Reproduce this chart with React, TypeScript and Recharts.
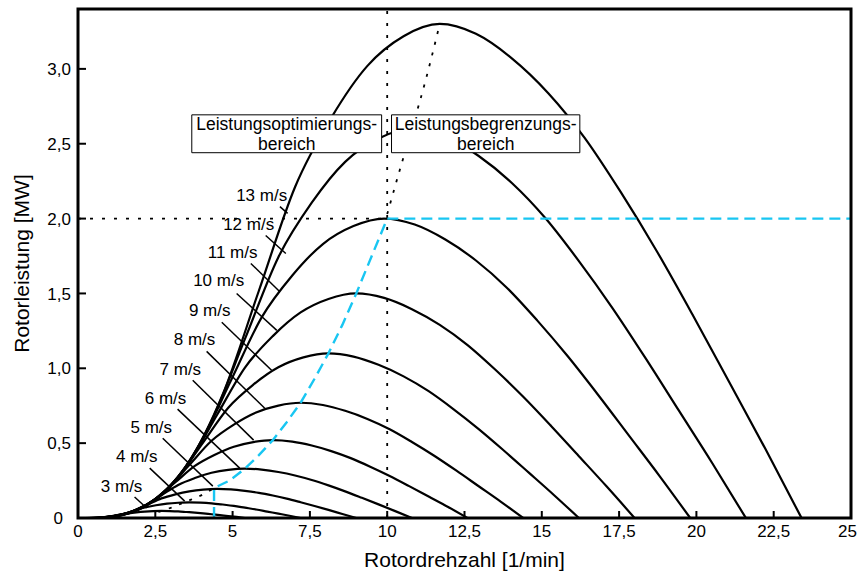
import React from 'react';
import {
  LineChart,
  Line,
  XAxis,
  YAxis,
  ReferenceLine,
  ReferenceArea,
  ReferenceDot,
  Label,
} from 'recharts';

const FONT = '"Liberation Sans", Arial, Helvetica, sans-serif';

// ---- axis ticks ----
const xTicks = [0, 2.5, 5, 7.5, 10, 12.5, 15, 17.5, 20, 22.5, 25];
const xTickLabels = ['0', '2,5', '5', '7,5', '10', '12,5', '15', '17,5', '20', '22,5', '25'];
const yTicks = [0, 0.5, 1, 1.5, 2, 2.5, 3];
const yTickLabels = ['0', '0,5', '1,0', '1,5', '2,0', '2,5', '3,0'];

// ---- power curves (rotor speed [1/min], rotor power [MW]) ----
const rpm13 = [0.94, 2.34, 3.51, 4.68, 5.85, 7.02, 8.19, 9.36, 10.53, 11.7, 12.87, 14.04, 15.21, 16.38, 17.55, 18.72, 19.89, 21.06, 22.23, 23.4];
const pow13 = [0, 0.099, 0.347, 0.825, 1.518, 2.211, 2.673, 3.02, 3.218, 3.3, 3.234, 3.069, 2.838, 2.541, 2.178, 1.782, 1.353, 0.908, 0.462, 0];
const rpm12 = [0.86, 2.16, 3.24, 4.32, 5.4, 6.48, 7.56, 8.64, 9.72, 10.8, 11.88, 12.96, 14.04, 15.12, 16.2, 17.28, 18.36, 19.44, 20.52, 21.6];
const pow12 = [0, 0.078, 0.273, 0.65, 1.196, 1.742, 2.106, 2.379, 2.535, 2.6, 2.548, 2.418, 2.236, 2.002, 1.716, 1.404, 1.066, 0.715, 0.364, 0];
const rpm11 = [0.79, 1.98, 2.97, 3.96, 4.95, 5.94, 6.93, 7.92, 8.91, 9.9, 10.89, 11.88, 12.87, 13.86, 14.85, 15.84, 16.83, 17.82, 18.81, 19.8];
const pow11 = [0, 0.06, 0.21, 0.5, 0.92, 1.34, 1.62, 1.83, 1.95, 2.0, 1.96, 1.86, 1.72, 1.54, 1.32, 1.08, 0.82, 0.55, 0.28, 0];
const rpm10 = [0.72, 1.8, 2.7, 3.6, 4.5, 5.4, 6.3, 7.2, 8.1, 9.0, 9.9, 10.8, 11.7, 12.6, 13.5, 14.4, 15.3, 16.2, 17.1, 18.0];
const pow10 = [0, 0.045, 0.158, 0.375, 0.69, 1.005, 1.215, 1.373, 1.463, 1.5, 1.47, 1.395, 1.29, 1.155, 0.99, 0.81, 0.615, 0.413, 0.21, 0];
const rpm9 = [0.65, 1.62, 2.43, 3.24, 4.05, 4.86, 5.67, 6.48, 7.29, 8.1, 8.91, 9.72, 10.53, 11.34, 12.15, 12.96, 13.77, 14.58, 15.39, 16.2];
const pow9 = [0, 0.033, 0.116, 0.275, 0.506, 0.737, 0.891, 1.007, 1.073, 1.1, 1.078, 1.023, 0.946, 0.847, 0.726, 0.594, 0.451, 0.303, 0.154, 0];
const rpm8 = [0.58, 1.44, 2.16, 2.88, 3.6, 4.32, 5.04, 5.76, 6.48, 7.2, 7.92, 8.64, 9.36, 10.08, 10.8, 11.52, 12.24, 12.96, 13.68, 14.4];
const pow8 = [0, 0.023, 0.081, 0.193, 0.354, 0.516, 0.624, 0.705, 0.751, 0.77, 0.755, 0.716, 0.662, 0.593, 0.508, 0.416, 0.316, 0.212, 0.108, 0];
const rpm7 = [0.5, 1.26, 1.89, 2.52, 3.15, 3.78, 4.41, 5.04, 5.67, 6.3, 6.93, 7.56, 8.19, 8.82, 9.45, 10.08, 10.71, 11.34, 11.97, 12.6];
const pow7 = [0, 0.016, 0.055, 0.13, 0.239, 0.348, 0.421, 0.476, 0.507, 0.52, 0.51, 0.484, 0.447, 0.4, 0.343, 0.281, 0.213, 0.143, 0.073, 0];
const rpm6 = [0.43, 1.08, 1.62, 2.16, 2.7, 3.24, 3.78, 4.32, 4.86, 5.4, 5.94, 6.48, 7.02, 7.56, 8.1, 8.64, 9.18, 9.72, 10.26, 10.8];
const pow6 = [0, 0.01, 0.035, 0.083, 0.152, 0.221, 0.267, 0.302, 0.322, 0.33, 0.323, 0.307, 0.284, 0.254, 0.218, 0.178, 0.135, 0.091, 0.046, 0];
const rpm5 = [0.36, 0.9, 1.35, 1.8, 2.25, 2.7, 3.15, 3.6, 4.05, 4.5, 4.95, 5.4, 5.85, 6.3, 6.75, 7.2, 7.65, 8.1, 8.55, 9.0];
const pow5 = [0, 0.006, 0.02, 0.049, 0.09, 0.131, 0.158, 0.178, 0.19, 0.195, 0.191, 0.181, 0.168, 0.15, 0.129, 0.105, 0.08, 0.054, 0.027, 0];
const rpm4 = [0.29, 0.72, 1.08, 1.44, 1.8, 2.16, 2.52, 2.88, 3.24, 3.6, 3.96, 4.32, 4.68, 5.04, 5.4, 5.76, 6.12, 6.48, 6.84, 7.2];
const pow4 = [0, 0.003, 0.011, 0.026, 0.048, 0.07, 0.085, 0.096, 0.102, 0.105, 0.103, 0.098, 0.09, 0.081, 0.069, 0.057, 0.043, 0.029, 0.015, 0];
const rpm3 = [0.22, 0.54, 0.81, 1.08, 1.35, 1.62, 1.89, 2.16, 2.43, 2.7, 2.97, 3.24, 3.51, 3.78, 4.05, 4.32, 4.59, 4.86, 5.13, 5.4];
const pow3 = [0, 0.0014, 0.005, 0.012, 0.022, 0.031, 0.038, 0.043, 0.046, 0.047, 0.046, 0.044, 0.04, 0.036, 0.031, 0.025, 0.019, 0.013, 0.007, 0];

// ---- operating line (cyan dashed) ----
const opRpm = [4.4, 4.4, 4.9, 5.4, 5.85, 6.3, 6.75, 7.2, 7.65, 8.1, 8.55, 9.0, 9.5, 10.0, 25];
const opPow = [0, 0.2, 0.25, 0.33, 0.42, 0.52, 0.64, 0.77, 0.93, 1.1, 1.29, 1.5, 1.75, 2.0, 2.0];

// ---- optimum locus (black dotted) ----
const optLowRpm = [2.6, 3.0, 3.5, 4.0, 4.4];
const optLowPow = [0.04, 0.068, 0.11, 0.153, 0.2];
const optHighRpm = [10.0, 10.4, 10.8, 11.25, 11.7];
const optHighPow = [2.03, 2.32, 2.6, 2.93, 3.3];

// ---- curve labels ----
const speedLabels = ['13 m/s', '12 m/s', '11 m/s', '10 m/s', '9 m/s', '8 m/s', '7 m/s', '6 m/s', '5 m/s', '4 m/s', '3 m/s'];
const labelRpm = [5.94, 5.52, 5.0, 4.55, 4.26, 3.77, 3.31, 2.83, 2.37, 1.9, 1.41];
const labelPow = [2.16, 1.965, 1.78, 1.587, 1.387, 1.193, 0.997, 0.803, 0.61, 0.413, 0.217];
const leaderX1 = [6.53, 6.07, 5.59, 5.13, 4.65, 4.16, 3.71, 3.22, 2.74, 2.32, 1.83];
const leaderY1 = [2.08, 1.887, 1.7, 1.5, 1.307, 1.113, 0.92, 0.727, 0.533, 0.333, 0.14];
const leaderX2 = [6.78, 6.72, 6.52, 6.43, 6.26, 6.04, 5.68, 5.23, 4.36, 3.45, 2.22];
const leaderY2 = [2.035, 1.767, 1.513, 1.253, 0.987, 0.733, 0.52, 0.333, 0.213, 0.113, 0.067];

// ---- region boxes ----
const boxTexts = [
  ['Leistungsoptimierungs-', 'bereich'],
  ['Leistungsbegrenzungs-', 'bereich'],
];
const boxX1 = [3.68, 10.14];
const boxX2 = [9.82, 16.23];
const boxY1 = [2.44, 2.44];
const boxY2 = [2.693, 2.693];

const zip = (xs: number[], ys: number[]) => xs.map((x, i) => ({ x, y: ys[i] }));

const curves = [
  zip(rpm13, pow13),
  zip(rpm12, pow12),
  zip(rpm11, pow11),
  zip(rpm10, pow10),
  zip(rpm9, pow9),
  zip(rpm8, pow8),
  zip(rpm7, pow7),
  zip(rpm6, pow6),
  zip(rpm5, pow5),
  zip(rpm4, pow4),
  zip(rpm3, pow3),
];

const XTick = (props: any) => {
  const { x, y, payload } = props;
  const v = payload.value;
  const idx = xTicks.indexOf(v);
  const last = idx === xTicks.length - 1;
  return (
    <g>
      {v > 0 && v < 25 && (
        <line x1={x} x2={x} y1={y} y2={y - 7} stroke="#000" strokeWidth={2} />
      )}
      <text
        x={last ? x + 6 : x}
        y={y + 19}
        textAnchor={last ? 'end' : 'middle'}
        fontSize={17}
        fontFamily={FONT}
        fill="#000"
      >
        {xTickLabels[idx]}
      </text>
    </g>
  );
};

const YTick = (props: any) => {
  const { x, y, payload } = props;
  const v = payload.value;
  const idx = yTicks.indexOf(v);
  return (
    <g>
      {v > 0 && (
        <line x1={x} x2={x + 8} y1={y} y2={y} stroke="#000" strokeWidth={2} />
      )}
      <text
        x={v === 0 ? x - 15 : x - 7}
        y={y}
        dy="0.36em"
        textAnchor="end"
        fontSize={17}
        fontFamily={FONT}
        fill="#000"
      >
        {yTickLabels[idx]}
      </text>
    </g>
  );
};

const BoxText = (props: any) => {
  const { viewBox, lines } = props;
  const { x, y, width } = viewBox;
  const cx = x + width / 2;
  return (
    <text textAnchor="middle" fontSize={17.5} fontFamily={FONT} fill="#000">
      <tspan x={cx} y={y + 15.5}>{lines[0]}</tspan>
      <tspan x={cx} y={y + 35.5}>{lines[1]}</tspan>
    </text>
  );
};

export default function App() {
  return (
    <div style={{ position: 'absolute', left: 0, top: 0, width: 858, height: 573, background: '#fff' }}>
      <LineChart width={858} height={573} margin={{ top: 9, right: 7, bottom: 0, left: 0 }}>
        <XAxis
          type="number"
          dataKey="x"
          domain={[0, 25]}
          ticks={xTicks}
          interval={0}
          tick={<XTick />}
          tickLine={false}
          axisLine={false}
          tickSize={0}
          tickMargin={0}
          height={55}
          allowDataOverflow
        >
          <Label
            value="Rotordrehzahl [1/min]"
            position="insideBottom"
            offset={6}
            fontSize={21}
            fontFamily={FONT}
            fill="#000"
          />
        </XAxis>
        <YAxis
          type="number"
          dataKey="y"
          domain={[0, 3.4]}
          ticks={yTicks}
          interval={0}
          tick={<YTick />}
          tickLine={false}
          axisLine={false}
          tickSize={0}
          tickMargin={0}
          width={78}
          allowDataOverflow
        >
          <Label
            value="Rotorleistung [MW]"
            angle={-90}
            position="insideLeft"
            offset={22}
            fontSize={21}
            fontFamily={FONT}
            fill="#000"
            style={{ textAnchor: 'middle' }}
          />
        </YAxis>

        <ReferenceLine x={10} stroke="#000" strokeWidth={1.8} strokeDasharray="3 9" />
        <ReferenceLine
          segment={[{ x: 0, y: 2 }, { x: 10, y: 2 }]}
          stroke="#000"
          strokeWidth={1.8}
          strokeDasharray="3 9"
        />

        {curves.map((d, i) => (
          <Line
            key={'c' + i}
            data={d}
            dataKey="y"
            type="monotone"
            stroke="#000"
            strokeWidth={2.2}
            dot={false}
            activeDot={false}
            isAnimationActive={false}
          />
        ))}

        <Line
          data={zip(optLowRpm, optLowPow)}
          dataKey="y"
          type="monotone"
          stroke="#000"
          strokeWidth={1.8}
          strokeDasharray="3 8"
          dot={false}
          activeDot={false}
          isAnimationActive={false}
        />
        <Line
          data={zip(optHighRpm, optHighPow)}
          dataKey="y"
          type="monotone"
          stroke="#000"
          strokeWidth={1.8}
          strokeDasharray="3 8"
          dot={false}
          activeDot={false}
          isAnimationActive={false}
        />
        <Line
          data={zip(opRpm, opPow)}
          dataKey="y"
          type="linear"
          stroke="#18c6f2"
          strokeWidth={2.4}
          strokeDasharray="11 6"
          dot={false}
          activeDot={false}
          isAnimationActive={false}
        />

        {speedLabels.map((s, i) => (
          <ReferenceLine
            key={'l' + i}
            segment={[
              { x: leaderX1[i], y: leaderY1[i] },
              { x: leaderX2[i], y: leaderY2[i] },
            ]}
            stroke="#000"
            strokeWidth={1.5}
          />
        ))}
        {speedLabels.map((s, i) => (
          <ReferenceDot
            key={'t' + i}
            x={labelRpm[i]}
            y={labelPow[i]}
            r={0}
            fill="none"
            stroke="none"
            label={{ value: s, position: 'center', fontSize: 17, fontFamily: FONT, fill: '#000' }}
          />
        ))}

        {boxTexts.map((lines, i) => (
          <ReferenceArea
            key={'b' + i}
            x1={boxX1[i]}
            x2={boxX2[i]}
            y1={boxY1[i]}
            y2={boxY2[i]}
            fill="#fff"
            fillOpacity={1}
            stroke="#000"
            strokeWidth={1}
            zIndex={1500}
            label={(p: any) => <BoxText {...p} lines={lines} />}
          />
        ))}

        <ReferenceArea
          x1={0}
          x2={25}
          y1={0}
          y2={3.4}
          fill="none"
          stroke="#000"
          strokeWidth={3}
          zIndex={1600}
        />
      </LineChart>
    </div>
  );
}
